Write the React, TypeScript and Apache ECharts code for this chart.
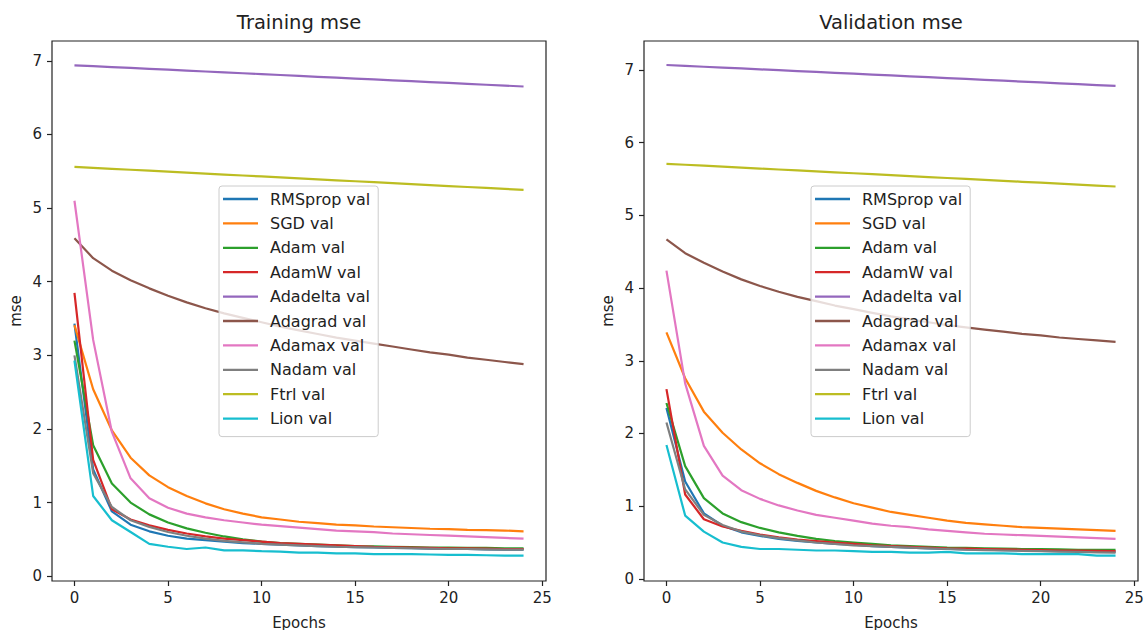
import React, { useEffect, useRef } from "react";
import * as echarts from "echarts";

const epochs = [0, 1, 2, 3, 4, 5, 6, 7, 8, 9, 10, 11, 12, 13, 14, 15, 16, 17, 18, 19, 20, 21, 22, 23, 24];
const optimizerNames = ["RMSprop val", "SGD val", "Adam val", "AdamW val", "Adadelta val", "Adagrad val", "Adamax val", "Nadam val", "Ftrl val", "Lion val"];
const colors = ["#1f77b4", "#ff7f0e", "#2ca02c", "#d62728", "#9467bd", "#8c564b", "#e377c2", "#7f7f7f", "#bcbd22", "#17becf"];
const xTicks = [0, 5, 10, 15, 20, 25];
const yTicks = [0, 1, 2, 3, 4, 5, 6, 7];

// Training mse
const trainRMSprop = [3.43, 1.45, 0.88, 0.70, 0.61, 0.55, 0.51, 0.49, 0.47, 0.45, 0.44, 0.43, 0.42, 0.41, 0.40, 0.395, 0.39, 0.385, 0.38, 0.375, 0.37, 0.37, 0.365, 0.36, 0.36];
const trainSGD = [3.41, 2.54, 1.98, 1.61, 1.37, 1.21, 1.09, 0.99, 0.91, 0.85, 0.80, 0.77, 0.74, 0.72, 0.70, 0.69, 0.675, 0.665, 0.655, 0.645, 0.64, 0.63, 0.625, 0.62, 0.61];
const trainAdam = [3.20, 1.78, 1.26, 1.00, 0.84, 0.73, 0.65, 0.59, 0.54, 0.50, 0.47, 0.45, 0.44, 0.43, 0.42, 0.41, 0.405, 0.40, 0.395, 0.39, 0.39, 0.385, 0.385, 0.38, 0.38];
const trainAdamW = [3.85, 1.58, 0.91, 0.77, 0.69, 0.63, 0.58, 0.54, 0.51, 0.49, 0.47, 0.45, 0.44, 0.43, 0.42, 0.41, 0.40, 0.395, 0.39, 0.385, 0.38, 0.38, 0.375, 0.37, 0.37];
const trainAdadelta = [6.94, 6.928, 6.916, 6.904, 6.892, 6.88, 6.868, 6.856, 6.844, 6.832, 6.82, 6.808, 6.796, 6.784, 6.772, 6.76, 6.748, 6.736, 6.724, 6.712, 6.70, 6.688, 6.676, 6.664, 6.652];
const trainAdagrad = [4.59, 4.32, 4.15, 4.02, 3.91, 3.81, 3.72, 3.64, 3.57, 3.51, 3.45, 3.39, 3.34, 3.29, 3.24, 3.20, 3.16, 3.12, 3.08, 3.04, 3.01, 2.97, 2.94, 2.91, 2.88];
const trainAdamax = [5.10, 3.21, 1.96, 1.33, 1.06, 0.93, 0.85, 0.80, 0.76, 0.73, 0.70, 0.68, 0.66, 0.64, 0.62, 0.61, 0.60, 0.58, 0.57, 0.56, 0.55, 0.54, 0.53, 0.52, 0.51];
const trainNadam = [3.00, 1.40, 0.94, 0.76, 0.67, 0.60, 0.55, 0.51, 0.48, 0.46, 0.44, 0.43, 0.42, 0.41, 0.40, 0.395, 0.39, 0.385, 0.38, 0.375, 0.37, 0.37, 0.365, 0.36, 0.36];
const trainFtrl = [5.56, 5.547, 5.534, 5.521, 5.508, 5.495, 5.482, 5.469, 5.456, 5.443, 5.43, 5.417, 5.404, 5.391, 5.378, 5.365, 5.352, 5.339, 5.326, 5.313, 5.30, 5.287, 5.274, 5.261, 5.248];
const trainLion = [2.93, 1.09, 0.76, 0.60, 0.44, 0.40, 0.37, 0.39, 0.35, 0.35, 0.34, 0.335, 0.32, 0.32, 0.31, 0.31, 0.30, 0.30, 0.30, 0.295, 0.29, 0.29, 0.285, 0.28, 0.28];

// Validation mse
const valRMSprop = [2.35, 1.34, 0.90, 0.73, 0.64, 0.59, 0.55, 0.52, 0.50, 0.48, 0.47, 0.45, 0.44, 0.43, 0.42, 0.41, 0.405, 0.40, 0.395, 0.39, 0.385, 0.38, 0.38, 0.375, 0.37];
const valSGD = [3.39, 2.76, 2.30, 2.01, 1.78, 1.59, 1.44, 1.32, 1.21, 1.12, 1.04, 0.98, 0.92, 0.88, 0.84, 0.80, 0.77, 0.75, 0.73, 0.71, 0.70, 0.69, 0.68, 0.67, 0.66];
const valAdam = [2.42, 1.55, 1.11, 0.90, 0.78, 0.70, 0.64, 0.59, 0.55, 0.52, 0.50, 0.48, 0.46, 0.45, 0.44, 0.43, 0.425, 0.42, 0.415, 0.41, 0.41, 0.405, 0.40, 0.40, 0.40];
const valAdamW = [2.61, 1.16, 0.82, 0.72, 0.66, 0.61, 0.57, 0.54, 0.52, 0.50, 0.48, 0.46, 0.45, 0.44, 0.43, 0.42, 0.415, 0.41, 0.405, 0.40, 0.395, 0.39, 0.39, 0.385, 0.38];
const valAdadelta = [7.07, 7.058, 7.046, 7.034, 7.022, 7.01, 6.998, 6.986, 6.974, 6.962, 6.95, 6.938, 6.926, 6.914, 6.902, 6.89, 6.878, 6.866, 6.854, 6.842, 6.83, 6.818, 6.806, 6.794, 6.782];
const valAdagrad = [4.67, 4.48, 4.35, 4.23, 4.12, 4.03, 3.95, 3.88, 3.82, 3.76, 3.71, 3.66, 3.61, 3.57, 3.53, 3.49, 3.46, 3.43, 3.40, 3.37, 3.35, 3.32, 3.30, 3.28, 3.26];
const valAdamax = [4.24, 2.69, 1.83, 1.42, 1.22, 1.10, 1.01, 0.94, 0.88, 0.84, 0.80, 0.76, 0.73, 0.71, 0.68, 0.66, 0.64, 0.62, 0.61, 0.60, 0.59, 0.58, 0.57, 0.56, 0.55];
const valNadam = [2.15, 1.23, 0.88, 0.74, 0.65, 0.60, 0.56, 0.53, 0.50, 0.48, 0.46, 0.45, 0.44, 0.43, 0.42, 0.41, 0.40, 0.395, 0.39, 0.385, 0.38, 0.375, 0.37, 0.365, 0.36];
const valFtrl = [5.71, 5.697, 5.684, 5.671, 5.658, 5.645, 5.632, 5.619, 5.606, 5.593, 5.58, 5.567, 5.554, 5.541, 5.528, 5.515, 5.502, 5.489, 5.476, 5.463, 5.45, 5.437, 5.424, 5.411, 5.398];
const valLion = [1.84, 0.87, 0.65, 0.50, 0.44, 0.41, 0.41, 0.40, 0.39, 0.39, 0.38, 0.37, 0.37, 0.36, 0.36, 0.37, 0.35, 0.35, 0.35, 0.34, 0.34, 0.34, 0.34, 0.32, 0.32];

const trainSeries = [trainRMSprop, trainSGD, trainAdam, trainAdamW, trainAdadelta, trainAdagrad, trainAdamax, trainNadam, trainFtrl, trainLion];
const valSeries = [valRMSprop, valSGD, valAdam, valAdamW, valAdadelta, valAdagrad, valAdamax, valNadam, valFtrl, valLion];

const FONT = "DejaVu Sans";
const TXT = "#222";

function makeXAxis(gridIndex: number) {
  return {
    type: "value",
    gridIndex,
    min: -1.2,
    max: 25.2,
    name: "Epochs",
    nameLocation: "middle",
    nameGap: 34,
    nameTextStyle: { fontFamily: FONT, fontSize: 15, color: TXT },
    axisLine: { show: false, onZero: false },
    splitLine: { show: false },
    axisTick: { show: true, inside: false, length: 5, customValues: xTicks, lineStyle: { color: TXT, width: 1.2 } },
    axisLabel: { show: true, margin: 9, customValues: xTicks, fontFamily: FONT, fontSize: 15, color: TXT },
  };
}

function makeYAxis(gridIndex: number, min: number, max: number) {
  return {
    type: "value",
    gridIndex,
    min,
    max,
    name: "mse",
    nameLocation: "middle",
    nameRotate: 90,
    nameGap: 29,
    nameTextStyle: { fontFamily: FONT, fontSize: 15, color: TXT },
    axisLine: { show: false, onZero: false },
    splitLine: { show: false },
    axisTick: { show: true, inside: false, length: 5, customValues: yTicks, lineStyle: { color: TXT, width: 1.2 } },
    axisLabel: { show: true, margin: 10, customValues: yTicks, fontFamily: FONT, fontSize: 15, color: TXT },
  };
}

function makeLegend(left: number) {
  return {
    orient: "vertical",
    left,
    top: 186,
    data: optimizerNames,
    selectedMode: false,
    icon: "rect",
    itemWidth: 35,
    itemHeight: 2.3,
    itemGap: 6.4,
    padding: [4, 8, 9, 4],
    backgroundColor: "rgba(255,255,255,0.8)",
    borderColor: "#cccccc",
    borderWidth: 1,
    borderRadius: 3,
    textStyle: { fontFamily: FONT, fontSize: 16, color: TXT, lineHeight: 18, padding: [0, 0, 0, 7] },
    z: 10,
  };
}

export default function App() {
  const ref = useRef<HTMLDivElement>(null);
  useEffect(() => {
    if (!ref.current) return;
    const chart = echarts.init(ref.current, null, { renderer: "svg" });
    const series: any[] = [];
    trainSeries.forEach((vals, i) => {
      series.push({
        type: "line",
        name: optimizerNames[i],
        xAxisIndex: 0,
        yAxisIndex: 0,
        data: epochs.map((e, k) => [e, vals[k]]),
        showSymbol: false,
        symbol: "none",
        lineStyle: { width: 2.2, color: colors[i] },
        itemStyle: { color: colors[i] },
      });
    });
    valSeries.forEach((vals, i) => {
      series.push({
        type: "line",
        name: optimizerNames[i],
        xAxisIndex: 1,
        yAxisIndex: 1,
        data: epochs.map((e, k) => [e, vals[k]]),
        showSymbol: false,
        symbol: "none",
        lineStyle: { width: 2.2, color: colors[i] },
        itemStyle: { color: colors[i] },
      });
    });
    chart.setOption({
      animation: false,
      backgroundColor: "#ffffff",
      textStyle: { fontFamily: FONT },
      grid: [
        { left: 52, top: 41, width: 494, height: 540, show: true, borderColor: TXT, borderWidth: 1.2, backgroundColor: "transparent", outerBoundsMode: "none", containLabel: false },
        { left: 644, top: 41, width: 494, height: 540, show: true, borderColor: TXT, borderWidth: 1.2, backgroundColor: "transparent", outerBoundsMode: "none", containLabel: false },
      ],
      xAxis: [makeXAxis(0), makeXAxis(1)],
      yAxis: [makeYAxis(0, -0.065, 7.27), makeYAxis(1, -0.03, 7.40)],
      legend: [makeLegend(219), makeLegend(811)],
      graphic: [
        { type: "text", x: 299, y: 22, style: { text: "Training mse", fontFamily: FONT, fontSize: 19.5, fill: TXT, textAlign: "center", textVerticalAlign: "middle" } },
        { type: "text", x: 891, y: 22, style: { text: "Validation mse", fontFamily: FONT, fontSize: 19.5, fill: TXT, textAlign: "center", textVerticalAlign: "middle" } },
      ],
      series,
    });
    return () => chart.dispose();
  }, []);
  return <div ref={ref} style={{ position: "fixed", left: 0, top: 0, width: 1144, height: 630 }} />;
}
